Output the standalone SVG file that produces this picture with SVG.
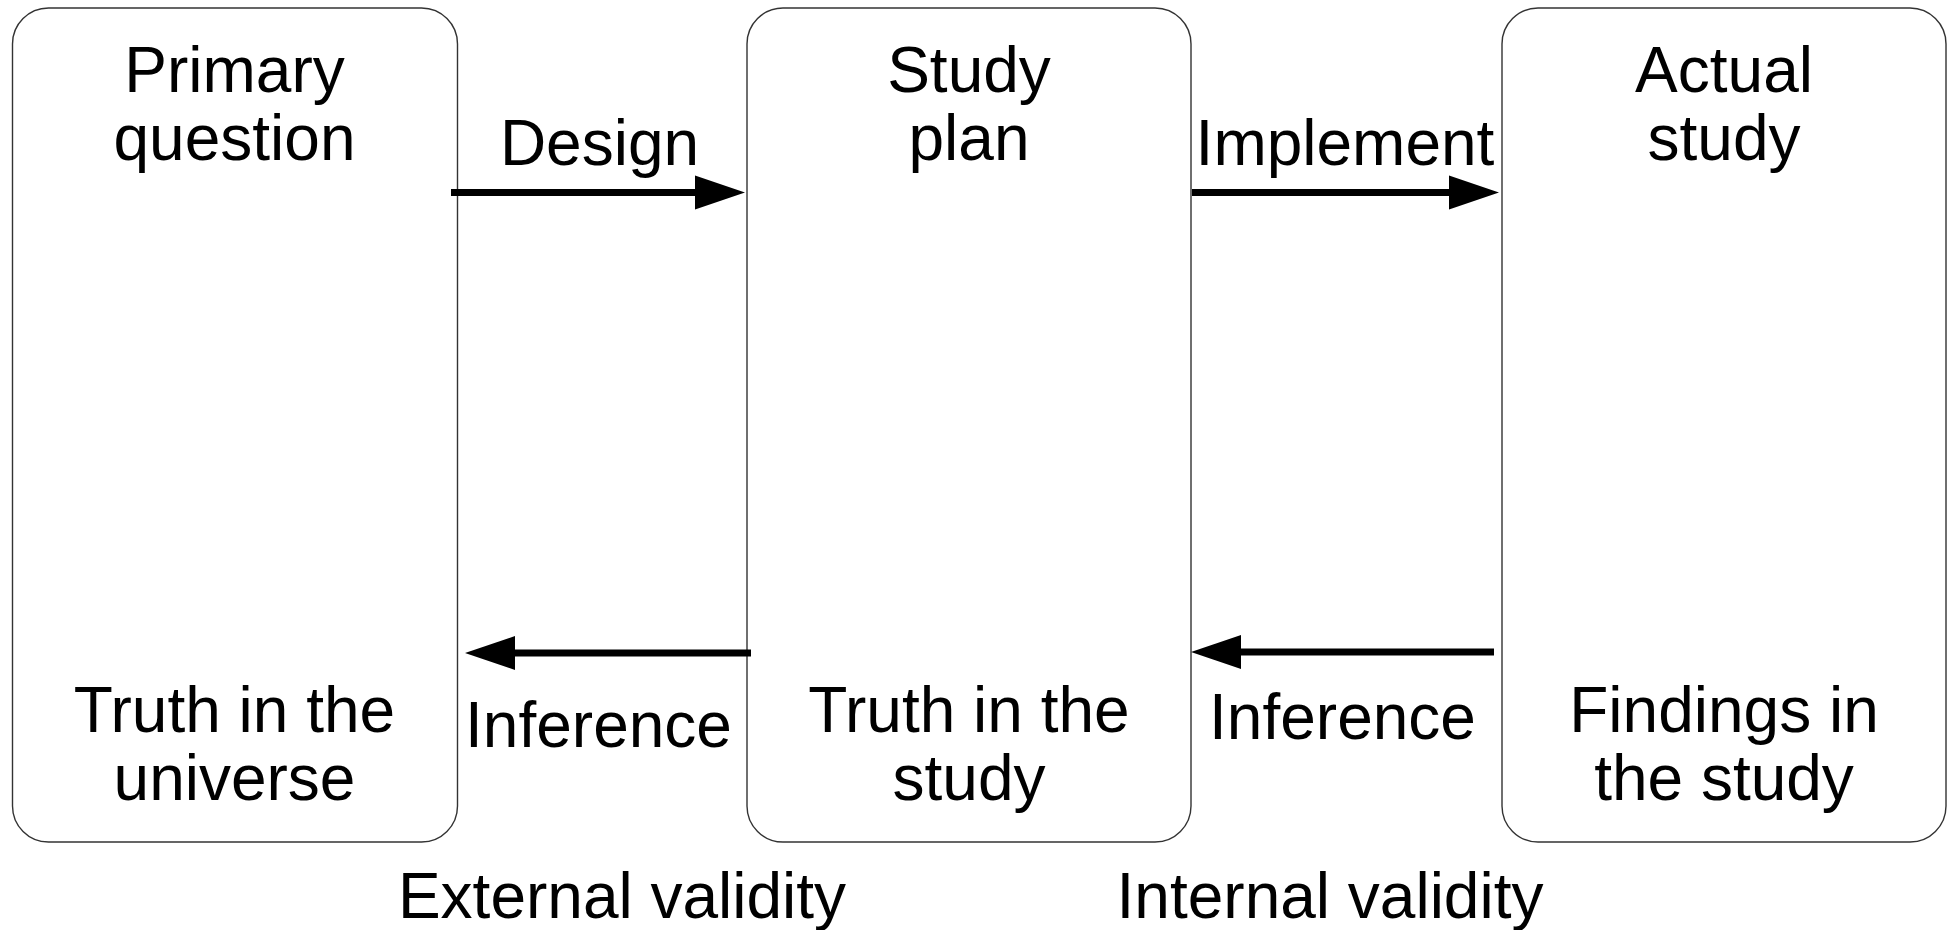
<svg xmlns="http://www.w3.org/2000/svg" width="1952" height="930" viewBox="0 0 1952 930">
<style>
.box{fill:#fff;stroke:#333;stroke-width:1.4}
.t{font-family:"Liberation Sans",Arial,sans-serif;font-size:64px;fill:#000;text-anchor:middle}
.arr{stroke:#000;stroke-width:7;fill:none;marker-end:url(#head)}
</style>
<defs>
<marker id="head" markerUnits="userSpaceOnUse" markerWidth="50" markerHeight="34" refX="5" refY="17" orient="auto" overflow="visible">
<path d="M0,0 L50,17 L0,34 Z" fill="#000"/>
</marker>
</defs>
<rect width="1952" height="930" fill="#fff"/>
<g id="node-primary">
<rect class="box" x="12.5" y="8" width="445" height="834" rx="36" ry="36"/>
<text class="t" x="234.5" y="92">Primary</text>
<text class="t" x="234.5" y="160">question</text>
<text class="t" x="234.5" y="732">Truth in the</text>
<text class="t" x="234.5" y="800">universe</text>
</g>
<g id="node-plan">
<rect class="box" x="747" y="8" width="444" height="834" rx="36" ry="36"/>
<text class="t" x="969" y="92">Study</text>
<text class="t" x="969" y="160">plan</text>
<text class="t" x="969" y="732">Truth in the</text>
<text class="t" x="969" y="800">study</text>
</g>
<g id="node-actual">
<rect class="box" x="1502" y="8" width="444" height="834" rx="36" ry="36"/>
<text class="t" x="1724" y="92">Actual</text>
<text class="t" x="1724" y="160">study</text>
<text class="t" x="1724" y="732">Findings in</text>
<text class="t" x="1724" y="800">the study</text>
</g>
<g id="connectors">
<line class="arr" x1="451" y1="192.5" x2="700" y2="192.5"/>
<line class="arr" x1="1192" y1="192.5" x2="1454" y2="192.5"/>
<line class="arr" x1="751" y1="653" x2="510" y2="653"/>
<line class="arr" x1="1494" y1="652" x2="1236" y2="652"/>
</g>
<g id="labels">
<text class="t" x="599.5" y="165">Design</text>
<text class="t" x="1345" y="165">Implement</text>
<text class="t" x="598.5" y="747">Inference</text>
<text class="t" x="1342.5" y="739">Inference</text>
<text class="t" x="622" y="918">External validity</text>
<text class="t" x="1330" y="918">Internal validity</text>
</g>
</svg>
